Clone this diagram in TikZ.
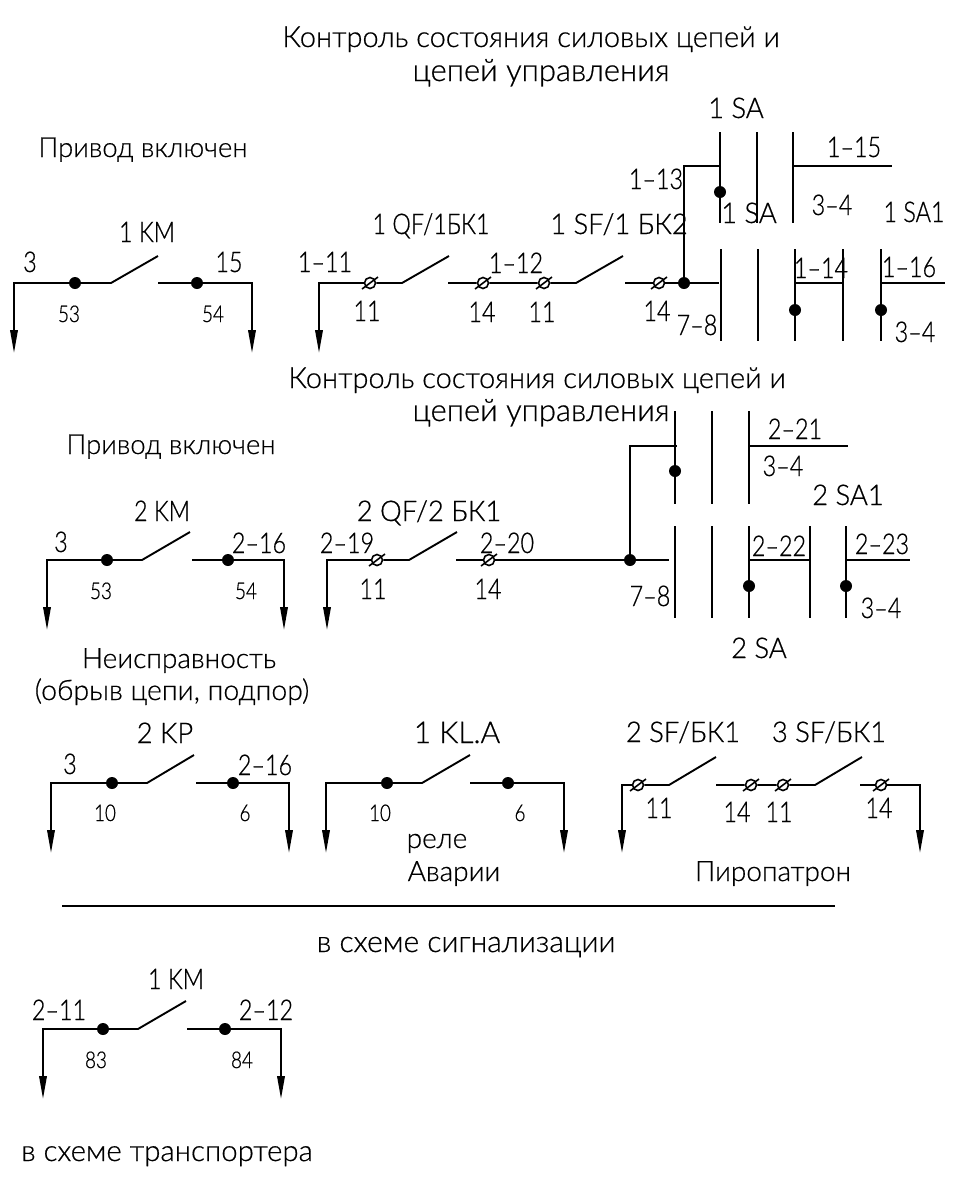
\documentclass[tikz,border=0pt]{standalone}
\usepackage{fontspec}
\setmainfont{Lato Light}[FakeBold=0.6]
\newfontfamily\numfont{Lato Light}[FakeStretch=0.82,FakeBold=0.6]
\newfontfamily\midfont{Lato Light}[FakeStretch=0.96,FakeBold=0.6]
\usetikzlibrary{arrows.meta}
\tikzset{
  wire/.style={line width=1.9pt,line join=miter},
  feed/.style={wire,-{Triangle[length=23pt,width=7.5pt]}},
  bar/.style={line width=1.9pt},
  dot/.style={circle,fill=black,inner sep=0pt,minimum size=12pt},
  termnode/.style={circle,draw,line width=1.6pt,fill=white,inner sep=0pt,minimum size=11pt},
  slash/.style={line width=1.6pt},
  lbl/.style={inner sep=0pt,text height=20pt,text depth=0pt,font=\numfont\fontsize{28.5}{28.5}\selectfont},
  midlbl/.style={inner sep=0pt,text height=20pt,text depth=0pt,font=\midfont\fontsize{28.5}{28.5}\selectfont},
  big/.style={inner sep=0pt,text height=20pt,text depth=0pt,font=\fontsize{#1}{#1}\selectfont},
  big/.default=28,
  small/.style={inner sep=0pt,text height=16pt,text depth=0pt,font=\numfont\fontsize{23}{23}\selectfont}
}
\newcommand{\termat}[3]{\node[termnode] (#1) at (#2,#3) {};
  \draw[slash] ([shift={(-8,6)}]#1.center) -- ([shift={(8,-6)}]#1.center);}
\begin{document}
\begin{tikzpicture}[x=1pt,y=-1pt]
\useasboundingbox (0,0) rectangle (953,1192);
\fill[white] (0,0) rectangle (953,1192);

% ---------- row 1, contact 1 KM
\node[dot] (a1) at (75,283) {};
\node[dot] (a2) at (197,283) {};
\coordinate (a1s) at (14,353);
\coordinate (a1c) at (14,283);
\coordinate (a1b) at (111,283);
\coordinate (a1e) at (158,256);
\coordinate (a2s) at (158,283);
\coordinate (a2c) at (252,283);
\coordinate (a2e) at (252,353);
\draw[feed] (a1) -- (a1c) -- (a1s);
\draw[wire] (a1) -- (a1b) -- (a1e);
\draw[wire] (a2s) -- (a2);
\draw[feed] (a2) -- (a2c) -- (a2e);
\node[lbl] (la1) at (30,262) {3};
\node[small] (la2) at (69,314) {53};
\node[lbl] (la3) at (229,262) {15};
\node[small] (la4) at (213,314) {54};
\node[lbl] (la5) at (147,232) {1 KM};

% ---------- row 1, 1 QF / 1 SF chain
\coordinate (b1s) at (319,353);
\coordinate (b1c) at (319,283);
\termat{b1}{370}{283}
\coordinate (b1b) at (402,283);
\coordinate (b1e) at (449,256);
\coordinate (b2s) at (448,283);
\termat{b2}{483}{283}
\termat{b3}{544}{283}
\coordinate (b3b) at (576,283);
\coordinate (b3e) at (623,256);
\coordinate (b4s) at (625,283);
\termat{b4}{659}{283}
\node[dot] (b5) at (684,283) {};
\coordinate (b5e) at (719,283);
\coordinate (b5c) at (684,166);
\coordinate (b5t) at (720,166);
\draw[feed] (b1) -- (b1c) -- (b1s);
\draw[wire] (b1) -- (b1b) -- (b1e);
\draw[wire] (b2s) -- (b2) -- (b3) -- (b3b) -- (b3e);
\draw[wire] (b4s) -- (b4) -- (b5) -- (b5e);
\draw[wire] (b5) -- (b5c) -- (b5t);
\node[lbl] (lb1) at (325,262) {1–11};
\node[lbl] (lb2) at (367,311) {11};
\node[lbl] (lb3) at (431,224) {1 QF/1БК1};
\node[lbl] (lb4) at (482,312) {14};
\node[lbl] (lb5) at (542,312) {11};
\node[lbl] (lb6) at (516,263) {1–12};
\node[midlbl] (lb7) at (619,224) {1 SF/1 БК2};
\node[lbl] (lb8) at (657,311) {14};

% ---------- row 1, 1 SA switch
\draw[bar] (720,132) coordinate (c1t) -- (720,223) coordinate (c1b);
\draw[bar] (757,132) coordinate (c2t) -- (757,223) coordinate (c2b);
\draw[bar] (793,132) coordinate (c3t) -- (793,223) coordinate (c3b);
\node[dot] (c1d) at (720,192) {};
\coordinate (c3j) at (793,166);
\coordinate (c3e) at (892,166);
\draw[wire] (c3j) -- (c3e);
\draw[bar] (721,249) coordinate (d1t) -- (721,341) coordinate (d1b);
\draw[bar] (758,249) coordinate (d2t) -- (758,341) coordinate (d2b);
\draw[bar] (795,249) coordinate (d3t) -- (795,341) coordinate (d3b);
\draw[bar] (843,249) coordinate (d4t) -- (843,341) coordinate (d4b);
\draw[bar] (881,249) coordinate (d5t) -- (881,341) coordinate (d5b);
\node[dot] (d3d) at (795,310) {};
\node[dot] (d5d) at (881,310) {};
\coordinate (d3j) at (795,283);
\coordinate (d4j) at (843,283);
\coordinate (d5j) at (881,283);
\coordinate (d5e) at (945,283);
\draw[wire] (d3j) -- (d4j);
\draw[wire] (d5j) -- (d5e);
\node[midlbl] (lc1) at (736,108) {1 SA};
\node[lbl] (lc2) at (854,147) {1–15};
\node[lbl] (lc3) at (656,179) {1–13};
\node[midlbl] (lc4) at (749,213) {1 SA};
\node[lbl] (lc5) at (832,205) {3–4};
\node[lbl] (lc6) at (914,212) {1 SA1};
\node[lbl] (lc7) at (697,325) {7–8};
\node[lbl] (lc8) at (821,268) {1–14};
\node[lbl] (lc9) at (909,267) {1–16};
\node[lbl] (lc10) at (915,332) {3–4};

% ---------- row 1 captions
\node[big=29] (t1) at (531,37) {Контроль состояния силовых цепей и};
\node[big=31] (t2) at (541,71) {цепей управления};
\node[big=27.5] (t3) at (143,147) {Привод включен};

% ---------- row 2, contact 2 KM
\node[dot] (e1) at (107,560) {};
\node[dot] (e2) at (228,560) {};
\coordinate (e1s) at (47,630);
\coordinate (e1c) at (47,560);
\coordinate (e1b) at (142,560);
\coordinate (e1e) at (190,532);
\coordinate (e2s) at (192,560);
\coordinate (e2c) at (284,560);
\coordinate (e2e) at (284,630);
\draw[feed] (e1) -- (e1c) -- (e1s);
\draw[wire] (e1) -- (e1b) -- (e1e);
\draw[wire] (e2s) -- (e2);
\draw[feed] (e2) -- (e2c) -- (e2e);
\node[lbl] (le1) at (61,542) {3};
\node[small] (le2) at (101,591) {53};
\node[lbl] (le3) at (259,543) {2–16};
\node[small] (le4) at (246,591) {54};
\node[lbl] (le5) at (162,511) {2 KM};

% ---------- row 2, 2 QF chain
\coordinate (f1s) at (327,630);
\coordinate (f1c) at (327,560);
\termat{f1}{377}{560}
\coordinate (f1b) at (409,560);
\coordinate (f1e) at (457,532);
\coordinate (f2s) at (456,560);
\termat{f2}{489}{560}
\node[dot] (f3) at (630,560) {};
\coordinate (f3e) at (669,560);
\coordinate (f3c) at (630,446);
\coordinate (f3t) at (677,446);
\draw[feed] (f1) -- (f1c) -- (f1s);
\draw[wire] (f1) -- (f1b) -- (f1e);
\draw[wire] (f2s) -- (f2) -- (f3) -- (f3e);
\draw[wire] (f3) -- (f3c) -- (f3t);
\node[lbl] (lf1) at (347,543) {2–19};
\node[lbl] (lf2) at (373,589) {11};
\node[lbl] (lf3) at (507,543) {2–20};
\node[lbl] (lf4) at (488,589) {14};
\node[midlbl] (lf5) at (429,511) {2 QF/2 БК1};

% ---------- row 2, 2 SA switch
\draw[bar] (675,411) coordinate (g1t) -- (675,504) coordinate (g1b);
\draw[bar] (712,411) coordinate (g2t) -- (712,504) coordinate (g2b);
\draw[bar] (749,411) coordinate (g3t) -- (749,504) coordinate (g3b);
\node[dot] (g1d) at (675,471) {};
\coordinate (g3j) at (749,446);
\coordinate (g3e) at (848,446);
\draw[wire] (g3j) -- (g3e);
\draw[bar] (675,526) coordinate (h1t) -- (675,618) coordinate (h1b);
\draw[bar] (712,526) coordinate (h2t) -- (712,618) coordinate (h2b);
\draw[bar] (749,526) coordinate (h3t) -- (749,618) coordinate (h3b);
\draw[bar] (810,526) coordinate (h4t) -- (810,618) coordinate (h4b);
\draw[bar] (846,526) coordinate (h5t) -- (846,618) coordinate (h5b);
\node[dot] (h3d) at (749,586) {};
\node[dot] (h5d) at (846,586) {};
\coordinate (h3j) at (749,560);
\coordinate (h4j) at (810,560);
\coordinate (h5j) at (846,560);
\coordinate (h5e) at (910,560);
\draw[wire] (h3j) -- (h4j);
\draw[wire] (h5j) -- (h5e);
\node[lbl] (lg1) at (795,429) {2–21};
\node[lbl] (lg2) at (783,466) {3–4};
\node[midlbl] (lg3) at (848,495) {2 SA1};
\node[lbl] (lg4) at (779,546) {2–22};
\node[lbl] (lg5) at (882,544) {2–23};
\node[lbl] (lg6) at (650,596) {7–8};
\node[lbl] (lg7) at (881,608) {3–4};
\node[midlbl] (lg8) at (759,648) {2 SA};

% ---------- row 2 captions
\node[big=29] (t4) at (537,378) {Контроль состояния силовых цепей и};
\node[big=31] (t5) at (541,411) {цепей управления};
\node[big=27.5] (t6) at (171,444) {Привод включен};

% ---------- row 3 captions
\node[big] (t7) at (179,658) {Неисправность};
\node[big=28.4] (t8) at (172,690) {(обрыв цепи, подпор)};

% ---------- row 3, 2 KP
\node[dot] (i1) at (112,783) {};
\node[dot] (i2) at (233,783) {};
\coordinate (i1s) at (51,853);
\coordinate (i1c) at (51,783);
\coordinate (i1b) at (147,783);
\coordinate (i1e) at (194,755);
\coordinate (i2s) at (196,783);
\coordinate (i2c) at (289,783);
\coordinate (i2e) at (289,853);
\draw[feed] (i1) -- (i1c) -- (i1s);
\draw[wire] (i1) -- (i1b) -- (i1e);
\draw[wire] (i2s) -- (i2);
\draw[feed] (i2) -- (i2c) -- (i2e);
\node[lbl] (li1) at (70,764) {3};
\node[small] (li2) at (105,813) {10};
\node[lbl] (li3) at (265,765) {2–16};
\node[small] (li4) at (245,813) {6};
\node[midlbl] (li5) at (165,733) {2 KP};

% ---------- row 3, 1 KL.A
\node[dot] (j1) at (387,783) {};
\node[dot] (j2) at (508,783) {};
\coordinate (j1s) at (326,853);
\coordinate (j1c) at (326,783);
\coordinate (j1b) at (422,783);
\coordinate (j1e) at (470,755);
\coordinate (j2s) at (470,783);
\coordinate (j2c) at (564,783);
\coordinate (j2e) at (564,853);
\draw[feed] (j1) -- (j1c) -- (j1s);
\draw[wire] (j1) -- (j1b) -- (j1e);
\draw[wire] (j2s) -- (j2);
\draw[feed] (j2) -- (j2c) -- (j2e);
\node[small] (lj1) at (380,813) {10};
\node[small] (lj2) at (520,813) {6};
\node[big=30] (lj3) at (457,733) {1 KL.A};
\node[big] (lj4) at (437,838) {реле};
\node[big] (lj5) at (454,871) {Аварии};

% ---------- row 3, pyro chain
\coordinate (k1s) at (622,853);
\coordinate (k1c) at (622,785);
\termat{k1}{638}{785}
\coordinate (k1b) at (669,785);
\coordinate (k1e) at (716,757);
\coordinate (k2s) at (716,785);
\termat{k2}{751}{785}
\termat{k3}{783}{785}
\coordinate (k3b) at (815,785);
\coordinate (k3e) at (862,757);
\coordinate (k4s) at (860,785);
\termat{k4}{881}{785}
\coordinate (k4c) at (920,785);
\coordinate (k4e) at (920,853);
\draw[feed] (k1) -- (k1c) -- (k1s);
\draw[wire] (k1) -- (k1b) -- (k1e);
\draw[wire] (k2s) -- (k2) -- (k3) -- (k3b) -- (k3e);
\draw[wire] (k4s) -- (k4);
\draw[feed] (k4) -- (k4c) -- (k4e);
\node[midlbl] (lk1) at (683,732) {2 SF/БК1};
\node[midlbl] (lk2) at (829,732) {3 SF/БК1};
\node[lbl] (lk3) at (659,808) {11};
\node[lbl] (lk4) at (737,812) {14};
\node[lbl] (lk5) at (779,812) {11};
\node[lbl] (lk6) at (879,808) {14};
\node[big] (lk7) at (773,871) {Пиропатрон};

% ---------- separator
\coordinate (s1) at (62,906);
\coordinate (s2) at (835,906);
\draw[wire] (s1) -- (s2);
\node[big=30] (t9) at (466,942) {в схеме сигнализации};

% ---------- bottom contact
\node[dot] (m1) at (103,1029) {};
\node[dot] (m2) at (225,1029) {};
\coordinate (m1s) at (43,1099);
\coordinate (m1c) at (43,1029);
\coordinate (m1b) at (138,1029);
\coordinate (m1e) at (186,1001);
\coordinate (m2s) at (187,1029);
\coordinate (m2c) at (281,1029);
\coordinate (m2e) at (281,1099);
\draw[feed] (m1) -- (m1c) -- (m1s);
\draw[wire] (m1) -- (m1b) -- (m1e);
\draw[wire] (m2s) -- (m2);
\draw[feed] (m2) -- (m2c) -- (m2e);
\node[lbl] (lm1) at (59,1010) {2–11};
\node[lbl] (lm2) at (266,1010) {2–12};
\node[small] (lm3) at (96,1060) {83};
\node[small] (lm4) at (242,1060) {84};
\node[lbl] (lm5) at (176,979) {1 KM};
\node[big=29.4] (t10) at (167,1151) {в схеме транспортера};
\end{tikzpicture}
\end{document}
